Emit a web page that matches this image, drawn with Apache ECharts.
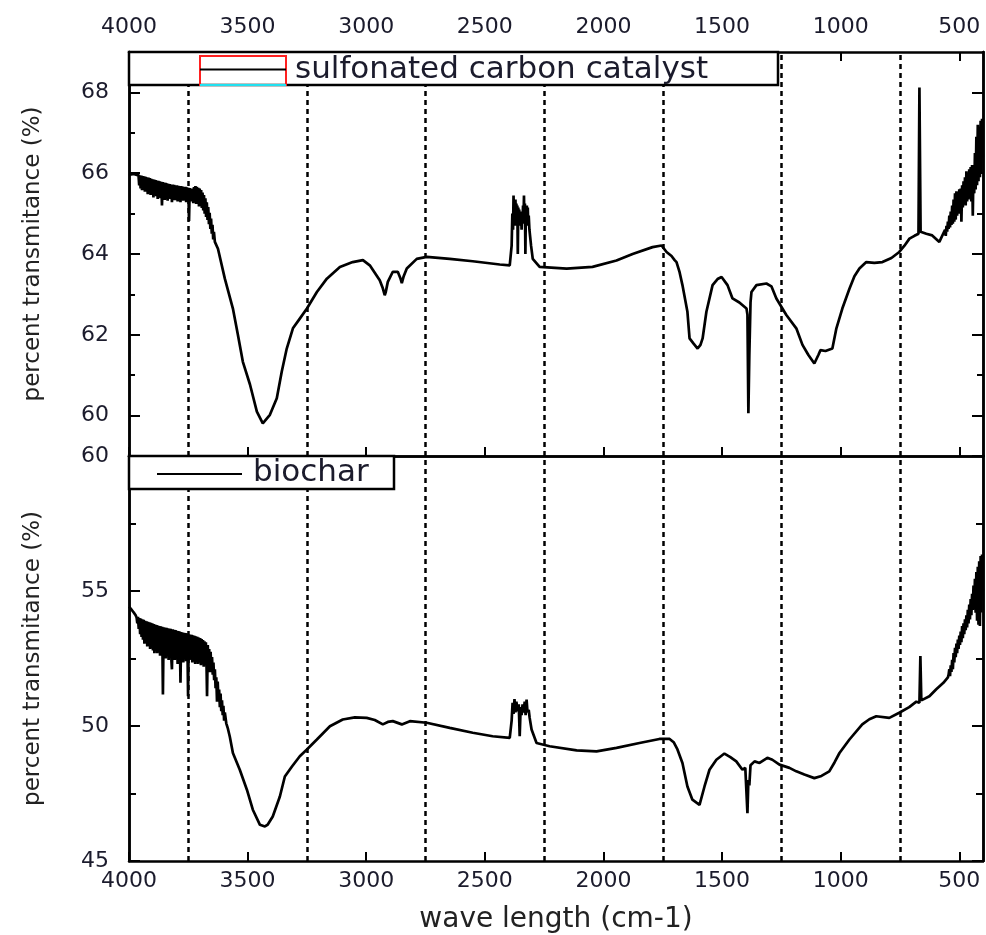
<!DOCTYPE html>
<html>
<head>
<meta charset="utf-8">
<title>FTIR spectra</title>
<script src="https://cdn.jsdelivr.net/npm/echarts@6.0.0/dist/echarts.min.js"></script>
<style>
  html, body { margin: 0; padding: 0; background: #fff; }
  #chart { width: 986px; height: 935px; }
</style>
</head>
<body>
<div id="chart"></div>
<script>
// Wavenumber ticks and reference positions (cm-1)
const wavenumberTicks = [4000, 3500, 3000, 2500, 2000, 1500, 1000, 500];
const guideWaves = [3750, 3250, 2750, 2250, 1750, 1250, 750];

// Transmittance ticks for each panel
const catalystMajorTicks = [60, 62, 64, 66, 68];
const catalystMinorTicks = [61, 63, 65, 67];
const biocharMajorTicks = [45, 50, 55, 60];
const biocharMinorTicks = [47.5, 52.5, 57.5];

// Sulfonated carbon catalyst spectrum
const catalystWave = [
  4000, 3990, 3980, 3970, 3963,
  3960, 3957, 3954, 3951, 3948, 3945, 3942, 3939, 3936, 3933, 3930, 3927, 3924, 3921, 3918, 3915,
  3912, 3909, 3906, 3903, 3900, 3897, 3894, 3891, 3888, 3885, 3882, 3879, 3876, 3873, 3870, 3867,
  3864, 3861, 3858, 3855, 3852, 3849, 3846, 3843, 3840, 3837, 3834, 3831, 3828, 3825, 3822, 3819,
  3816, 3813, 3810, 3807, 3804, 3801, 3798, 3795, 3792, 3789, 3786, 3783, 3780, 3777, 3774, 3771,
  3768, 3765, 3762, 3759, 3756, 3753, 3750, 3747, 3744, 3741, 3738, 3735, 3732, 3729, 3726, 3723,
  3720, 3717, 3714, 3711, 3708, 3705, 3702, 3699, 3696, 3693, 3690, 3687, 3684, 3681, 3678, 3675,
  3672, 3669, 3666, 3663, 3660, 3657, 3654, 3651, 3648, 3645, 3642, 3638,
  3625, 3596, 3562, 3541, 3520, 3490, 3461, 3436, 3406, 3377, 3356,
  3335, 3309, 3280, 3250, 3208, 3166, 3111, 3057, 3014, 2985, 2943, 2930, 2922, 2918, 2909, 2888,
  2867, 2856, 2850, 2842, 2829, 2787, 2745, 2648, 2551, 2437, 2395,
  2387, 2384, 2381, 2379, 2377, 2375, 2373, 2371, 2369, 2367, 2365, 2363, 2361, 2359, 2357, 2355,
  2353, 2351, 2349, 2347, 2345, 2343, 2341, 2339, 2337, 2335, 2333, 2331, 2329, 2327, 2325, 2323,
  2321, 2319, 2317, 2315, 2312, 2305, 2298, 2269,
  2155, 2046, 1945, 1877, 1793, 1755, 1734, 1713, 1700, 1692, 1679, 1667, 1646, 1637, 1620, 1603,
  1591, 1582, 1566, 1540, 1519, 1502, 1477, 1456, 1427, 1397, 1393, 1389, 1385, 1380, 1376, 1355,
  1313, 1292, 1271, 1229, 1187, 1161, 1136, 1111, 1094, 1085, 1064, 1035, 1018, 993, 963, 942,
  921, 892, 858, 824, 786, 753, 732, 710, 689, 672, 668, 663, 639, 614, 584,
  560, 557, 554, 551, 548, 545, 542, 539, 536, 533, 530, 527, 524, 521, 518, 515,
  512, 509, 506, 503, 500, 497, 494, 491, 488, 485, 482, 479, 476, 473, 470, 467,
  464, 461, 458, 455, 452, 449, 446, 443, 440, 437, 434, 431, 428, 425, 422, 419,
  416, 413, 410, 407, 404, 401
];
const catalystT = [
  65.98, 65.97, 65.98, 65.96, 65.95,
  65.96, 65.70, 65.95, 65.62, 65.94, 65.58, 65.93, 65.64, 65.92, 65.54, 65.91, 65.60, 65.90, 65.48, 65.89, 65.56,
  65.88, 65.46, 65.86, 65.54, 65.85, 65.40, 65.84, 65.50, 65.83, 65.43, 65.82, 65.36, 65.81, 65.46, 65.80, 65.38,
  65.79, 65.20, 65.78, 65.40, 65.77, 65.34, 65.76, 65.44, 65.75, 65.32, 65.74, 65.40, 65.73, 65.36, 65.72, 65.28,
  65.72, 65.38, 65.71, 65.33, 65.70, 65.40, 65.70, 65.30, 65.69, 65.36, 65.68, 65.28, 65.68, 65.38, 65.67, 65.32,
  65.66, 65.36, 65.66, 65.28, 65.65, 65.34, 65.64, 64.82, 65.63, 65.30, 65.62, 65.34, 65.62, 65.26, 65.66, 65.32,
  65.68, 65.24, 65.66, 65.28, 65.64, 65.18, 65.62, 65.22, 65.58, 65.14, 65.52, 65.08, 65.46, 65.00, 65.38, 64.92,
  65.28, 64.84, 65.16, 64.74, 65.02, 64.62, 64.88, 64.50, 64.72, 64.36, 64.55, 64.30,
  64.13, 63.39, 62.65, 62.00, 61.33, 60.77, 60.10, 59.81, 60.02, 60.43, 61.09,
  61.66, 62.16, 62.40, 62.65, 63.06, 63.39, 63.68, 63.80, 63.85, 63.72, 63.35, 63.15, 62.98, 63.05, 63.31, 63.56,
  63.56, 63.40, 63.28, 63.45, 63.64, 63.88, 63.93, 63.88, 63.82, 63.74, 63.72,
  64.21, 65.00, 64.60, 65.45, 64.80, 65.30, 64.70, 65.35, 64.90, 65.25, 64.75, 65.20, 64.00, 65.15, 64.85, 65.10,
  64.75, 65.05, 64.70, 64.95, 64.60, 65.00, 64.75, 65.20, 64.80, 65.45, 64.75, 65.25, 64.00, 65.10, 64.80, 65.20,
  64.70, 65.15, 64.75, 64.95, 64.60, 64.20, 63.88, 63.68,
  63.64, 63.68, 63.84, 64.00, 64.17, 64.21, 64.05, 63.95, 63.85, 63.80, 63.55, 63.23, 62.57, 61.91, 61.78, 61.66,
  61.75, 61.91, 62.57, 63.23, 63.38, 63.43, 63.23, 62.90, 62.80, 62.65, 62.50, 60.06, 61.50, 62.80, 63.06, 63.23,
  63.27, 63.20, 62.90, 62.49, 62.16, 61.75, 61.50, 61.29, 61.50, 61.62, 61.60, 61.66, 62.16, 62.65, 63.14, 63.45,
  63.64, 63.80, 63.78, 63.80, 63.90, 64.05, 64.20, 64.38, 64.45, 64.50, 68.12, 64.55, 64.50, 64.46, 64.30,
  64.60, 64.45, 64.70, 64.55, 64.80, 64.62, 64.95, 64.66, 65.05, 64.72, 65.20, 64.75, 65.35, 64.80, 65.50, 64.85,
  65.55, 64.95, 65.50, 65.00, 65.60, 65.05, 65.62, 64.80, 65.70, 65.15, 65.80, 65.25, 65.90, 65.20, 66.05, 65.30,
  66.00, 65.35, 66.10, 65.40, 66.15, 65.30, 66.20, 64.95, 66.20, 65.50, 66.50, 65.60, 66.90, 65.70, 67.20, 65.80,
  67.15, 65.90, 67.30, 66.00, 67.35, 66.40
];

// Biochar spectrum
const biocharWave = [
  4000, 3992, 3985, 3978, 3972, 3968, 3965, 3962, 3959, 3956, 3953, 3950, 3947, 3944, 3941, 3938,
  3935, 3932, 3929, 3926, 3923, 3920, 3917, 3914, 3911, 3908, 3905, 3902, 3899, 3896, 3893, 3890,
  3887, 3884, 3881, 3878, 3875, 3872, 3869, 3866, 3863, 3860, 3857, 3854, 3851, 3848, 3845, 3842,
  3839, 3836, 3833, 3830, 3827, 3824, 3821, 3819, 3816, 3813, 3810, 3807, 3804, 3801, 3798, 3795,
  3792, 3789, 3786, 3783, 3780, 3777, 3774, 3771, 3768, 3765, 3762, 3759, 3756, 3753, 3751, 3748,
  3745, 3742, 3739, 3736, 3733, 3730, 3727, 3724, 3721, 3718, 3715, 3712, 3709, 3706, 3703, 3700,
  3697, 3694, 3691, 3688, 3685, 3682, 3679, 3676, 3673, 3671, 3668, 3665, 3662, 3659, 3656, 3653,
  3650, 3647, 3644, 3641, 3638, 3635, 3632, 3629, 3626, 3623, 3620, 3617, 3614, 3611, 3608, 3605,
  3602, 3599, 3596, 3590, 3583, 3575, 3562, 3533, 3503, 3478, 3448, 3427,
  3415, 3394, 3364, 3343, 3313, 3280, 3250, 3208, 3153, 3099, 3048, 2998, 2964, 2930, 2909, 2888,
  2850, 2816, 2745, 2648, 2551, 2467, 2395, 2387, 2383, 2379, 2375, 2371, 2367, 2362, 2357, 2353,
  2349, 2345, 2341, 2336, 2332, 2328, 2324, 2320, 2315, 2311, 2303, 2282, 2227, 2113, 2029, 1945,
  1848, 1764, 1721, 1704, 1688, 1667, 1646, 1625, 1595, 1587, 1574, 1553, 1524, 1490, 1465, 1440,
  1414, 1402, 1397, 1393, 1389, 1385, 1380, 1363, 1342, 1309, 1288, 1258, 1216, 1187, 1153, 1111,
  1081, 1048, 1026, 1005, 963, 909, 879, 850, 795, 753, 711, 681, 668, 664, 660, 626,
  597, 567, 548,
  545, 542, 539, 536, 533, 530, 527, 524, 521, 518, 515, 512, 509, 506, 503, 500,
  497, 494, 491, 488, 485, 482, 479, 476, 473, 470, 467, 464, 461, 458, 455, 452,
  449, 446, 443, 440, 437, 434, 431, 428, 425, 422, 419, 416, 413, 410, 407, 404, 401
];
const biocharT = [
  54.42, 54.34, 54.26, 54.18, 54.10, 54.02, 53.80, 54.04, 53.60, 54.00, 53.40, 53.98, 53.30, 53.95, 53.20, 53.93,
  53.05, 53.90, 53.10, 53.88, 52.95, 53.86, 53.00, 53.84, 52.85, 53.82, 52.95, 53.80, 52.80, 53.78, 52.70, 53.76,
  52.85, 53.74, 52.70, 53.72, 52.80, 53.70, 52.60, 53.69, 52.75, 53.68, 51.17, 53.66, 52.65, 53.65, 52.50, 53.64,
  52.70, 53.62, 52.45, 53.61, 52.65, 53.60, 52.40, 52.10, 53.58, 52.60, 53.56, 52.45, 53.55, 52.65, 53.53, 52.30,
  53.52, 52.60, 53.50, 51.60, 53.48, 52.50, 53.46, 52.35, 53.45, 52.60, 53.44, 52.40, 53.43, 52.55, 51.10, 53.40,
  52.45, 53.39, 52.60, 53.38, 52.35, 53.36, 52.55, 53.34, 52.30, 53.32, 52.60, 53.30, 52.30, 53.28, 52.50, 53.26,
  52.25, 53.22, 52.45, 53.18, 52.20, 53.14, 52.40, 53.10, 52.15, 51.10, 53.00, 52.30, 52.85, 51.99, 52.75, 52.10,
  52.55, 51.90, 52.35, 51.70, 52.10, 51.40, 51.80, 50.90, 51.65, 50.95, 51.35, 50.70, 51.20, 50.55, 50.95, 50.40,
  50.75, 50.20, 50.50, 50.10, 49.90, 49.60, 49.00, 48.38, 47.64, 46.90, 46.34, 46.28,
  46.35, 46.65, 47.39, 48.13, 48.50, 48.88, 49.13, 49.50, 49.99, 50.24, 50.32, 50.30, 50.22, 50.06, 50.15, 50.18,
  50.06, 50.18, 50.12, 49.93, 49.75, 49.62, 49.56, 50.20, 50.86, 50.45, 51.00, 50.50, 50.90, 50.55, 50.80, 49.62,
  50.70, 50.40, 50.80, 50.50, 50.90, 50.40, 50.98, 50.50, 50.60, 50.30, 49.87, 49.37, 49.25, 49.10, 49.06, 49.19,
  49.37, 49.52, 49.52, 49.40, 49.13, 48.63, 47.76, 47.27, 47.08, 47.15, 47.76, 48.38, 48.75, 48.98, 48.85, 48.69,
  48.38, 48.45, 48.40, 46.77, 48.00, 47.80, 48.55, 48.69, 48.63, 48.82, 48.75, 48.57, 48.45, 48.32, 48.20, 48.07,
  48.15, 48.32, 48.65, 49.00, 49.50, 50.06, 50.25, 50.36, 50.30, 50.49, 50.70, 50.90, 50.86, 52.59, 50.95, 51.10,
  51.36, 51.60, 51.80,
  51.90, 52.10, 51.85, 52.25, 52.00, 52.45, 52.10, 52.70, 52.35, 52.90, 52.55, 53.05, 52.70, 53.20, 52.85, 53.35,
  53.00, 53.50, 53.10, 53.70, 53.25, 53.80, 53.40, 53.95, 53.55, 54.10, 53.65, 54.30, 53.80, 54.50, 53.95, 54.70,
  54.10, 54.90, 54.30, 55.20, 54.45, 55.45, 54.20, 55.70, 53.90, 55.90, 53.75, 56.10, 53.70, 56.30, 54.20, 56.35, 55.00
];

const zip = (xs, ys) => xs.map((x, i) => [x, ys[i]]);

const INK = '#000';
const LABEL_INK = '#1b1b2c';
const FONT = '"DejaVu Sans", "Liberation Sans", sans-serif';
const plain = v => String(v);

function xAxis(gridIndex, position, withLabels, withTicks, extra) {
  return Object.assign({
    type: 'value', gridIndex, position,
    min: 400, max: 4000, inverse: true,
    axisLine: { show: true, onZero: false, lineStyle: { color: INK, width: 2.5 } },
    axisTick: { show: withTicks, inside: true, length: 9, lineStyle: { color: INK, width: 2 }, customValues: wavenumberTicks },
    axisLabel: {
      show: withLabels, customValues: wavenumberTicks, formatter: plain,
      color: LABEL_INK, fontFamily: FONT, fontSize: 22, margin: position === 'top' ? 14 : 9
    },
    splitLine: { show: false }
  }, extra || {});
}

function yAxis(gridIndex, position, min, max, tickValues, tickLength, labelValues, extra) {
  return Object.assign({
    type: 'value', gridIndex, position, min, max,
    axisLine: { show: true, onZero: false, lineStyle: { color: INK, width: 2.5 } },
    axisTick: { show: true, inside: true, length: tickLength, lineStyle: { color: INK, width: 2 }, customValues: tickValues },
    axisLabel: labelValues
      ? { show: true, customValues: labelValues, formatter: plain, color: LABEL_INK, fontFamily: FONT, fontSize: 22, margin: 20 }
      : { show: false },
    splitLine: { show: false }
  }, extra || {});
}

const yName = {
  name: 'percent transmitance (%)', nameLocation: 'middle', nameGap: 84, nameRotate: 90,
  nameTextStyle: { color: '#222', fontFamily: FONT, fontSize: 23 }
};

const guideLines = {
  silent: true,
  symbol: ['none', 'none'],
  label: { show: false },
  lineStyle: { color: INK, width: 2.5, type: [5, 4] },
  data: guideWaves.map(w => ({ xAxis: w }))
};

const option = {
  animation: false,
  backgroundColor: '#fff',
  grid: [
    { left: 129, right: 3, top: 52, height: 404 },
    { left: 129, right: 3, top: 456, height: 405 }
  ],
  xAxis: [
    xAxis(0, 'top', true, true),
    xAxis(0, 'bottom', false, true),
    xAxis(1, 'bottom', true, true, {
      name: 'wave length (cm-1)', nameLocation: 'middle', nameGap: 45,
      nameTextStyle: { color: '#222', fontFamily: FONT, fontSize: 28 }
    }),
    xAxis(1, 'top', false, false)
  ],
  yAxis: [
    yAxis(0, 'left', 59, 69, catalystMajorTicks, 11, catalystMajorTicks, yName),
    yAxis(0, 'left', 59, 69, catalystMinorTicks, 6, null),
    yAxis(0, 'right', 59, 69, catalystMajorTicks, 11, null),
    yAxis(0, 'right', 59, 69, catalystMinorTicks, 6, null),
    yAxis(1, 'left', 45, 60, biocharMajorTicks, 11, biocharMajorTicks, yName),
    yAxis(1, 'left', 45, 60, biocharMinorTicks, 7, null),
    yAxis(1, 'right', 45, 60, biocharMajorTicks, 11, null),
    yAxis(1, 'right', 45, 60, biocharMinorTicks, 7, null)
  ],
  series: [
    {
      name: 'sulfonated carbon catalyst', type: 'line',
      xAxisIndex: 0, yAxisIndex: 0,
      data: zip(catalystWave, catalystT),
      showSymbol: false, sampling: null, clip: true,
      lineStyle: { color: INK, width: 2.7 },
      markLine: guideLines
    },
    {
      name: 'biochar', type: 'line',
      xAxisIndex: 2, yAxisIndex: 4,
      data: zip(biocharWave, biocharT),
      showSymbol: false, sampling: null, clip: true,
      lineStyle: { color: INK, width: 2.7 },
      markLine: guideLines
    }
  ],
  // Boxed legends drawn over the plot frame
  graphic: [
    { type: 'rect', z: 100, shape: { x: 129, y: 52, width: 649, height: 33 },
      style: { fill: '#fff', stroke: INK, lineWidth: 2.5 } },
    { type: 'rect', z: 101, shape: { x: 200, y: 56, width: 86, height: 29 },
      style: { fill: 'none', stroke: '#ff2020', lineWidth: 2 } },
    { type: 'line', z: 102, shape: { x1: 200, y1: 85, x2: 286, y2: 85 },
      style: { stroke: '#22e0f0', lineWidth: 2 } },
    { type: 'line', z: 102, shape: { x1: 200, y1: 69.5, x2: 286, y2: 69.5 },
      style: { stroke: INK, lineWidth: 2 } },
    { type: 'text', z: 102, x: 295, y: 70,
      style: { text: 'sulfonated carbon catalyst', fill: LABEL_INK, font: '31px ' + FONT, verticalAlign: 'middle' } },

    { type: 'rect', z: 100, shape: { x: 129, y: 456, width: 265, height: 33 },
      style: { fill: '#fff', stroke: INK, lineWidth: 2.5 } },
    { type: 'line', z: 102, shape: { x1: 157, y1: 474, x2: 242, y2: 474 },
      style: { stroke: INK, lineWidth: 2 } },
    { type: 'text', z: 102, x: 253, y: 473,
      style: { text: 'biochar', fill: LABEL_INK, font: '31px ' + FONT, verticalAlign: 'middle' } }
  ]
};

const chart = echarts.init(document.getElementById('chart'), null, { renderer: 'canvas' });
chart.setOption(option);
</script>
</body>
</html>
